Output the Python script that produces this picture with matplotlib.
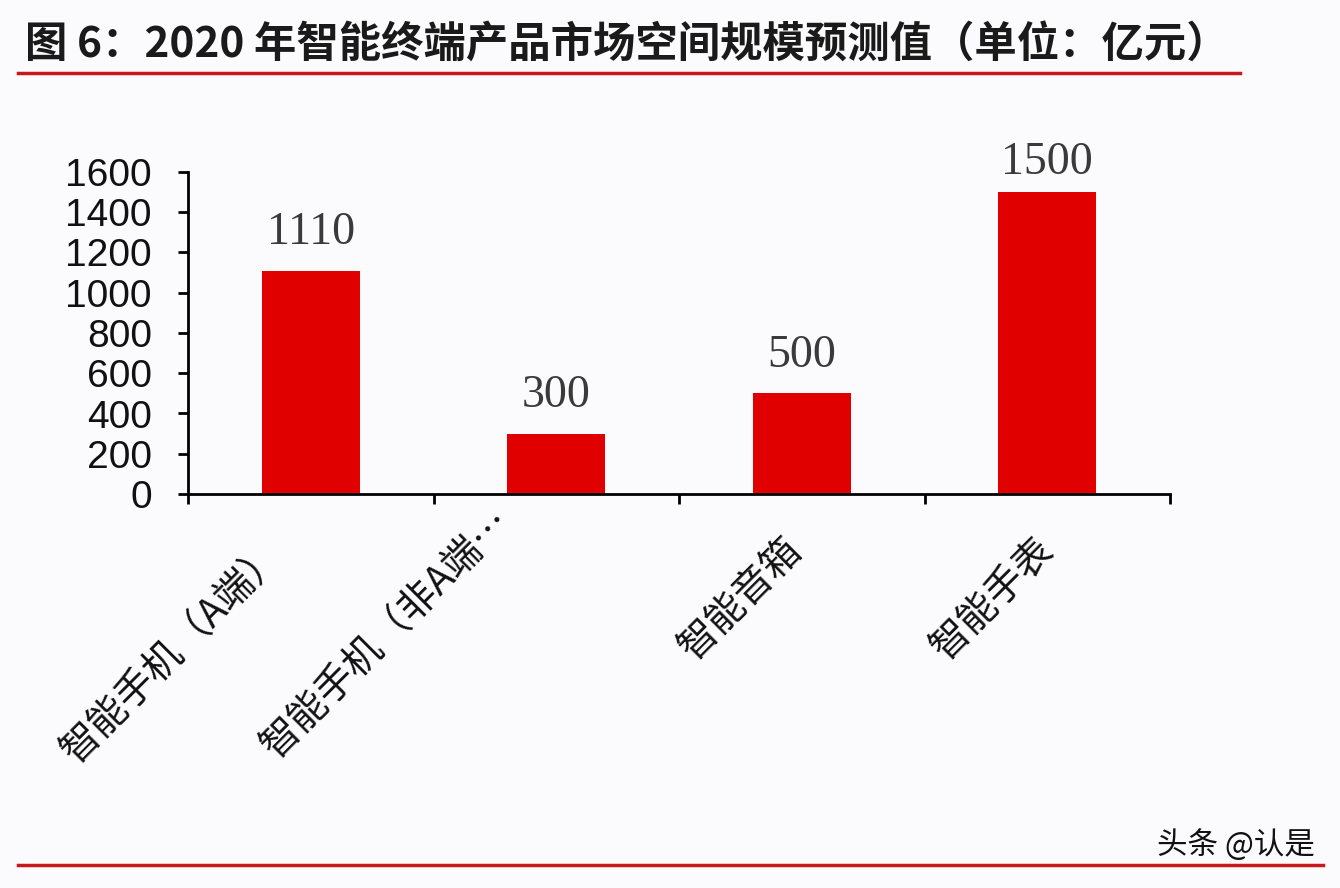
import matplotlib
matplotlib.use('Agg')
import matplotlib.pyplot as plt
from matplotlib.lines import Line2D
from matplotlib.transforms import ScaledTranslation

categories = ['智能手机（A端）', '智能手机（非A端…', '智能音箱', '智能手表']
values = [1110, 300, 500, 1500]
yticks = [0, 200, 400, 600, 800, 1000, 1200, 1400, 1600]
title = '图 6：2020 年智能终端产品市场空间规模预测值（单位：亿元）'
source = '头条 @认是'

# label nudges in pixels (dx, dy), the original is not evenly placed
label_shift = [(-48, -40), (-66, -8), (-20, -36), (-14, -36)]
value_shift = [12, 12, 12, 6]

plt.rcParams['font.family'] = ['Noto Sans CJK SC', 'DejaVu Sans']

fig = plt.figure(figsize=(13.4, 8.88), dpi=100, facecolor='#fbfbfd')
W, H = 1340, 888
ax = fig.add_axes([188 / W, 1 - 494 / H, (1170 - 188) / W, (494 - 172) / H])
ax.set_facecolor('none')

x = list(range(len(values)))
ax.bar(x, values, width=0.4, color='#e00000', zorder=2)
ax.set_xlim(-0.5, len(values) - 0.5)
ax.set_ylim(0, 1600)

for s in ['top', 'right']:
    ax.spines[s].set_visible(False)
for s in ['left', 'bottom']:
    ax.spines[s].set_linewidth(2)
    ax.spines[s].set_color('black')

ax.set_yticks(yticks)
ax.set_yticklabels([str(t) for t in yticks], family=['Liberation Sans', 'DejaVu Sans'],
                   fontsize=28, color='#111111')
ax.tick_params(axis='y', length=7, width=2, pad=19, direction='out')

ax.set_xticks(x)
ax.set_xticklabels([])
ax.tick_params(axis='x', which='major', length=0)
ax.set_xticks([i - 0.5 for i in range(len(values) + 1)], minor=True)
ax.tick_params(axis='x', which='minor', length=7, width=2, direction='out')

for i, (lab, (dx, dy)) in enumerate(zip(categories, label_shift)):
    tr = ax.get_xaxis_transform() + ScaledTranslation(dx / 100, dy / 100, fig.dpi_scale_trans)
    ax.text(i, 0, lab, transform=tr, rotation=45, rotation_mode='anchor',
            ha='right', va='top', fontsize=28, color='#111111')

for i, v in enumerate(values):
    ax.annotate(str(v), (i, v), xytext=(0, value_shift[i]), textcoords='offset points',
                ha='center', va='bottom', fontsize=33, color='#3a3a3a',
                family=['Liberation Serif', 'DejaVu Serif'])

fig.text(25 / W, 1 - 45 / H, title, fontsize=30.5, fontweight='bold', ha='left', va='center',
         color='#1a1a1a')
fig.add_artist(Line2D([18 / W, 1240 / W], [1 - 73 / H, 1 - 73 / H], color='#c8191e', lw=2.5))
fig.add_artist(Line2D([18 / W, 1323 / W], [1 - 865 / H, 1 - 865 / H], color='#c8191e', lw=2.5))
fig.text(1315 / W, 1 - 845 / H, source, fontsize=22, ha='right', va='center', color='#111111')

fig.savefig('out.png', dpi=100, facecolor=fig.get_facecolor())
